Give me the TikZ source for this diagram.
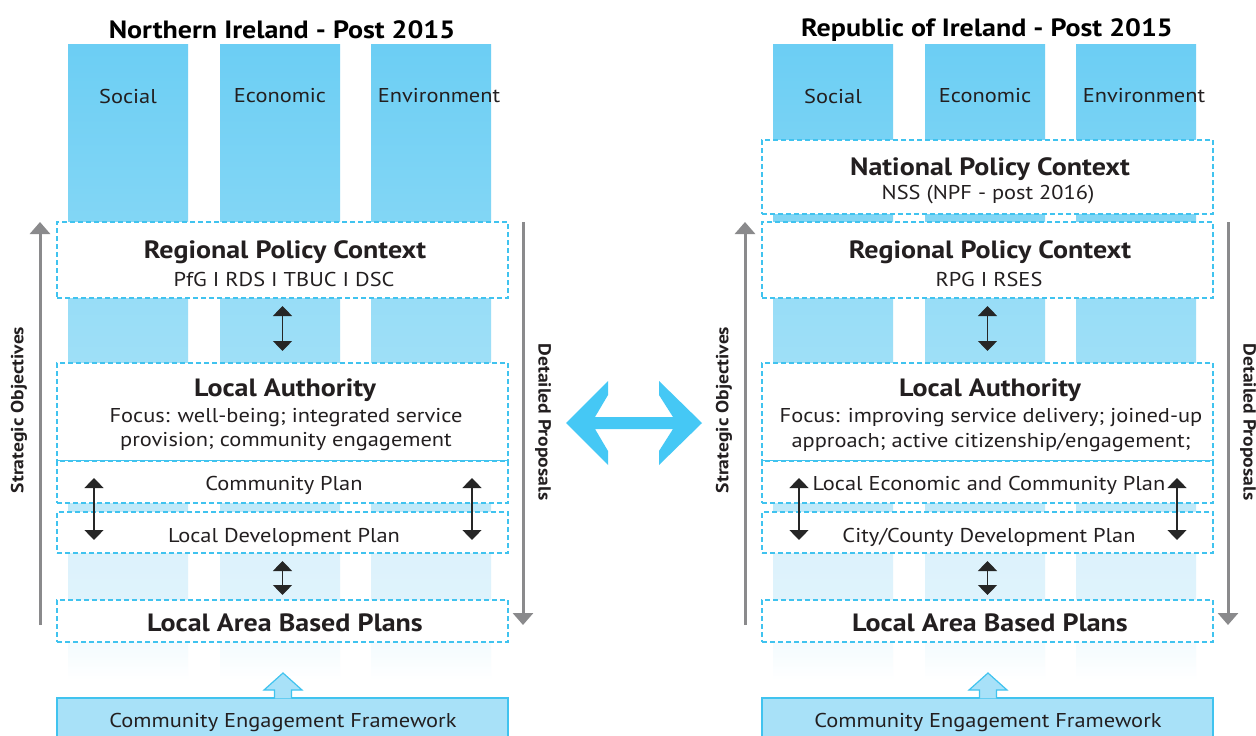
\documentclass[tikz,border=0pt]{standalone}
\usepackage{fontspec}
\setmainfont{PT Sans}[FakeStretch=1.12]
\usetikzlibrary{arrows.meta}
\definecolor{cA}{RGB}{108,206,244}
\definecolor{cB}{RGB}{130,214,245}
\definecolor{cC}{RGB}{152,221,247}
\definecolor{cD}{RGB}{158,223,247}
\definecolor{cE}{RGB}{182,230,249}
\definecolor{cF}{RGB}{192,233,249}
\definecolor{cG}{RGB}{218,241,251}
\definecolor{cH}{RGB}{223,243,252}
\definecolor{cI}{RGB}{230,246,252}
\definecolor{cDash}{RGB}{64,195,239}
\definecolor{cFill}{RGB}{168,225,248}
\definecolor{cBig}{RGB}{69,200,245}
\definecolor{cGray}{RGB}{138,138,140}
\definecolor{cTxt}{RGB}{35,31,32}
\tikzset{
  ttl/.style={font=\fontsize{25}{28}\selectfont\bfseries, text=black, inner sep=0pt},
  hb/.style={font=\fontsize{25}{28}\selectfont\bfseries, text=cTxt, inner sep=0pt},
  tn/.style={font=\fontsize{20}{24}\selectfont, text=cTxt, inner sep=0pt},
  side/.style={font=\fontsize{17.5}{21}\selectfont\bfseries, text=cTxt, inner sep=0pt},
  dbox/.style={draw=cDash, dash pattern=on 5pt off 3pt, line width=1.1pt, fill=white, inner sep=0pt, outer sep=0pt, minimum width=451pt},
  dbl/.style={{Triangle[width=19pt,length=10pt]}-{Triangle[width=19pt,length=10pt]}, line width=1.3pt, draw=black!85, fill=black!85},
  garr/.style={-{Triangle[width=20pt,length=12pt]}, line width=3pt, draw=cGray, fill=cGray},
}
\newcommand{\panelP}[8]{%
\begin{scope}[xshift=#2]
  \foreach \cx in {68,220,371}{
    \shade[top color=cA,bottom color=cB] (\cx,44) rectangle ++(120,178);
    \shade[top color=cA,bottom color=cB] (\cx,222) rectangle ++(120,76);
    \shade[top color=cC,bottom color=cD] (\cx,298) rectangle ++(120,65);
    \shade[top color=cE,bottom color=cF] (\cx,363) rectangle ++(120,149);
    \shade[top color=cG,bottom color=cH] (\cx,512) rectangle ++(120,88);
    \shade[top color=cI,bottom color=white] (\cx,600) rectangle ++(120,80);
  }
  \node[ttl] (#1title) at (282,30) {#3};
  \node[tn] (#1soc) at (128,96) {Social};
  \node[tn] (#1eco) at (280,96) {Economic};
  \node[tn] (#1env) at (439,96) {Environment};
  % boxes
  \node[dbox, minimum height=76pt] (#1reg) at (282.5,260) {};
  \node[dbox, minimum height=98pt] (#1la) at (282.5,412) {};
  \node[dbox, minimum height=42pt] (#1cp) at (282.5,482) {};
  \node[dbox, minimum height=41pt] (#1ldp) at (282.5,532.5) {};
  \node[dbox, minimum height=42pt] (#1labp) at (282.5,621) {};
  % texts
  \node[hb] (#1regt) at (285,252) {Regional Policy Context};
  \node[tn] (#1regs) at (284,279) {#4};
  \node[hb] (#1lat) at (285,390) {Local Authority};
  \node[tn] (#1laf) at (286,418) {#5};
  \node[tn] (#1lag) at (286,442) {#6};
  \node[tn] (#1cpt) at (284,485) {#7};
  \node[tn] (#1ldpt) at (284,537) {#8};
  \node[hb] (#1labpt) at (285,623) {Local Area Based Plans};
  % arrows
  \draw[dbl] ([yshift=-8pt]#1reg.south) -- ([yshift=12pt]#1la.north);
  \draw[dbl] ([yshift=-8pt]#1ldp.south) -- ([yshift=5pt]#1labp.north);
  \coordinate (#1a1) at (94,478);
  \coordinate (#1a2) at (94,540);
  \coordinate (#1b1) at (472,478);
  \coordinate (#1b2) at (472,540);
  \draw[dbl] (#1a1) -- (#1a2);
  \draw[dbl] (#1b1) -- (#1b2);
  % side arrows
  \coordinate (#1g1) at (40,625);
  \coordinate (#1g2) at (40,222);
  \coordinate (#1h1) at (523,222);
  \coordinate (#1h2) at (523,625);
  \draw[garr] (#1g1) -- (#1g2);
  \draw[garr] (#1h1) -- (#1h2);
  \node[side, rotate=90] (#1so) at (19,410) {Strategic Objectives};
  \node[side, rotate=-90] (#1dp) at (543,422) {Detailed Proposals};
  % community engagement framework
  \node[draw=cDash, fill=cFill, line width=1.2pt, minimum width=451pt, minimum height=50pt, inner sep=0pt] (#1cef) at (282.5,723) {};
  \node[tn] (#1ceft) at (283,722) {Community Engagement Framework};
  \draw[draw=cDash, fill=cFill, line width=1.2pt] (274.5,698.4) -- (274.5,690) -- (264,690) -- (283,673) -- (302,690) -- (291.5,690) -- (291.5,698.4);
\end{scope}}
\begin{document}
\begin{tikzpicture}[x=1pt,y=-1pt]
\useasboundingbox[fill=white] (0,0) rectangle (1256,736);
\panelP{L}{0pt}{Northern Ireland - Post 2015}{PfG I RDS I TBUC I DSC}{Focus: well-being; integrated service}{provision; community engagement}{Community Plan}{Local Development Plan}
\panelP{R}{705pt}{Republic of Ireland - Post 2015}{RPG I RSES}{Focus: improving service delivery; joined-up}{approach; active citizenship/engagement;}{Local Economic and Community Plan}{City/County Development Plan}
% national policy context (right panel)
\node[dbox, minimum height=74pt] (Rnat) at (987.5,177) {};
\node[hb] (Rnatt) at (990,169) {National Policy Context};
\node[tn] (Rnats) at (988,195) {NSS (NPF - post 2016)};
% central double arrow
\fill[cBig] (566,423) -- (608,381) -- (608,395) -- (595,417) -- (673,417) -- (659,395) -- (659,381) -- (702,423) -- (659,465) -- (659,451) -- (673,429) -- (595,429) -- (608,451) -- (608,465) -- cycle;
\end{tikzpicture}
\end{document}
